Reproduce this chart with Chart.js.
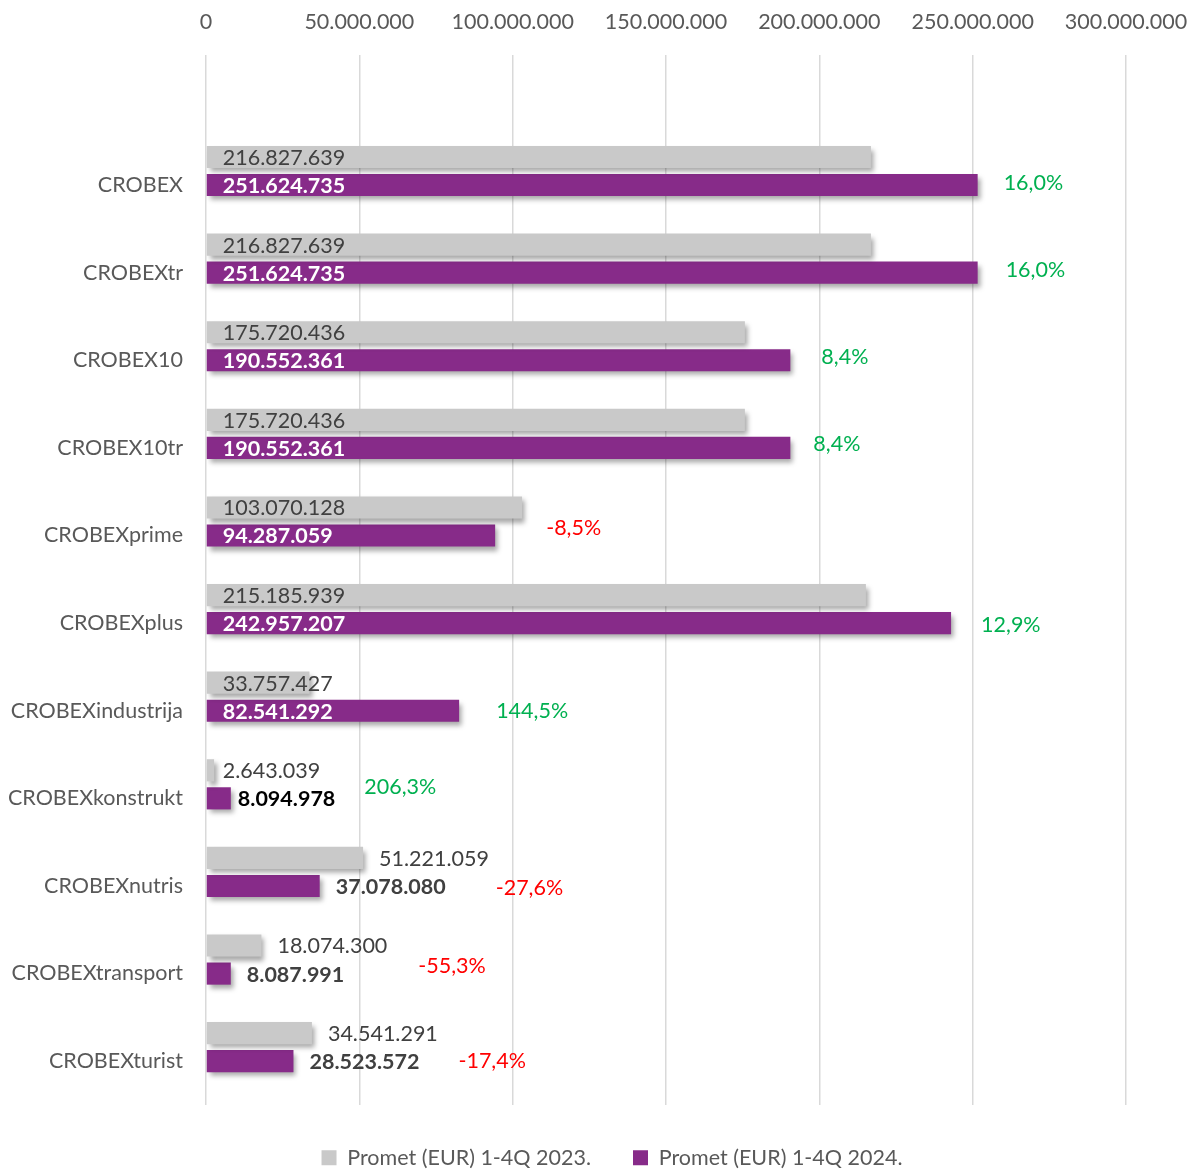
<!DOCTYPE html>
<html lang="hr">
<head>
  <meta charset="UTF-8">
  <title>CROBEX indeksi - promet</title>
  <script src="https://cdn.jsdelivr.net/npm/chart.js"></script>
  <style>
    html, body { margin: 0; padding: 0; background: #fff; }
    #wrap { width: 1197px; height: 1171px; position: relative; }
  </style>
</head>
<body>
  <div id="wrap"><canvas id="chart"></canvas></div>
  <script>
    // Index names, top to bottom
    const categories = ['CROBEX', 'CROBEXtr', 'CROBEX10', 'CROBEX10tr', 'CROBEXprime', 'CROBEXplus',
      'CROBEXindustrija', 'CROBEXkonstrukt', 'CROBEXnutris', 'CROBEXtransport', 'CROBEXturist'];
    const promet2023 = [216827639, 216827639, 175720436, 175720436, 103070128, 215185939,
      33757427, 2643039, 51221059, 18074300, 34541291];
    const promet2024 = [251624735, 251624735, 190552361, 190552361, 94287059, 242957207,
      82541292, 8094978, 37078080, 8087991, 28523572];
    const changeLabels = ['16,0%', '16,0%', '8,4%', '8,4%', '-8,5%', '12,9%',
      '144,5%', '206,3%', '-27,6%', '-55,3%', '-17,4%'];
    const xTicks = [0, 50000000, 100000000, 150000000, 200000000, 250000000, 300000000];

    // small bars get their value label after the bar end
    const outsideLabels = ['CROBEXkonstrukt', 'CROBEXnutris', 'CROBEXtransport', 'CROBEXturist'];
    // hand placed % labels in the original, small nudges [dx, dy]
    const changeNudge = [[-2, 1], [0, 0], [3, 0], [-5, -1], [23, -4], [2, 5],
      [9, 3], [-11, -8], [10, 5], [34, -5], [-1, 3]];

    const FONT = 'Lato, "Open Sans", sans-serif';
    const FS = 21.5;
    const fmt = v => v.toString().replace(/\B(?=(\d{3})+(?!\d))/g, '.');

    const shadowPlugin = {
      id: 'barShadow',
      beforeInit(chart) {
        // keep legend row low, close to the bottom edge
        const fit = chart.legend.fit;
        chart.legend.fit = function () {
          fit.call(this);
          this.height = 66;
        };
      },
      afterLayout(chart) {
        // legend sits a bit right of centre in the original
        chart.legend.left += 98;
      },
      beforeDatasetsDraw(chart) {
        const ctx = chart.ctx;
        ctx.save();
        ctx.shadowColor = 'rgba(0,0,0,0.35)';
        ctx.shadowBlur = 5;
        ctx.shadowOffsetX = 3;
        ctx.shadowOffsetY = 4;
      },
      afterDatasetsDraw(chart) {
        chart.ctx.restore();
      }
    };

    const labelPlugin = {
      id: 'valueLabels',
      afterDatasetsDraw(chart) {
        const ctx = chart.ctx;
        ctx.save();
        ctx.textBaseline = 'middle';
        ctx.textAlign = 'left';
        const m0 = chart.getDatasetMeta(0).data;
        const m1 = chart.getDatasetMeta(1).data;
        categories.forEach((cat, i) => {
          const out = outsideLabels.includes(cat);
          const g = m0[i], p = m1[i];
          // 2023 label
          ctx.font = FS + 'px ' + FONT;
          ctx.fillStyle = '#404040';
          let gx = out ? g.x + 16 : g.base + 16;
          if (cat === 'CROBEXkonstrukt') gx = g.base + 16;
          ctx.fillText(fmt(promet2023[i]), gx, g.y + 1);
          // 2024 label
          ctx.font = 'bold ' + FS + 'px ' + FONT;
          ctx.fillStyle = out ? (cat === 'CROBEXkonstrukt' ? '#000' : '#404040') : '#fff';
          const px = out ? p.x + (cat === 'CROBEXkonstrukt' ? 7 : 16) : p.base + 16;
          ctx.fillText(fmt(promet2024[i]), px, p.y + 1);
          // change label
          let end = p.x;
          if (out) end = px + ctx.measureText(fmt(promet2024[i])).width;
          ctx.font = FS + 'px ' + FONT;
          ctx.fillStyle = changeLabels[i].startsWith('-') ? '#ff0000' : '#00b050';
          const [dx, dy] = changeNudge[i];
          ctx.fillText(changeLabels[i], end + (out ? 40 : 28) + dx, p.y - 3 + dy);
        });
        ctx.restore();
      }
    };

    new Chart(document.getElementById('chart'), {
      type: 'bar',
      data: {
        datasets: [
          {
            label: 'Promet (EUR) 1-4Q 2023.',
            data: promet2023.map((v, i) => ({ x: v, y: i })),
            backgroundColor: '#c9c9c9',
            categoryPercentage: 0.64,
            barPercentage: 0.79
          },
          {
            label: 'Promet (EUR) 1-4Q 2024.',
            data: promet2024.map((v, i) => ({ x: v, y: i })),
            backgroundColor: '#872b89',
            categoryPercentage: 0.64,
            barPercentage: 0.79
          }
        ]
      },
      options: {
        indexAxis: 'y',
        responsive: true,
        maintainAspectRatio: false,
        animation: false,
        layout: { padding: { left: 0, right: 71, top: 0, bottom: 0 } },
        scales: {
          x: {
            position: 'top',
            min: 0,
            max: 300000000,
            afterFit: s => { s.height = 55; s.paddingRight = 0; s.paddingLeft = 0; },
            afterBuildTicks: s => { s.ticks = xTicks.map(v => ({ value: v })); },
            grid: { color: '#d9d9d9', lineWidth: 1.5, drawTicks: false },
            border: { display: false },
            ticks: {
              color: '#595959',
              font: { family: FONT, size: FS },
              padding: 20,
              callback: v => fmt(v)
            }
          },
          y: {
            type: 'linear',
            reverse: true,
            offset: false,
            bounds: 'data',
            min: -1.324,
            max: 10.66,
            afterFit: s => { s.width = 206; s.paddingTop = 0; s.paddingBottom = 0; },
            afterBuildTicks: s => { s.ticks = categories.map((c, i) => ({ value: i })); },
            grid: { display: false },
            border: { display: false },
            ticks: {
              color: '#595959',
              font: { family: FONT, size: FS },
              padding: 15,
              labelOffset: 14,
              callback: v => categories[v] || ''
            }
          }
        },
        plugins: {
          legend: {
            position: 'bottom',
            labels: {
              color: '#595959',
              font: { family: FONT, size: FS },
              boxWidth: 15,
              boxHeight: 15,
              padding: 42
            }
          },
          tooltip: { enabled: false }
        }
      },
      plugins: [shadowPlugin, labelPlugin]
    });
  </script>
</body>
</html>
